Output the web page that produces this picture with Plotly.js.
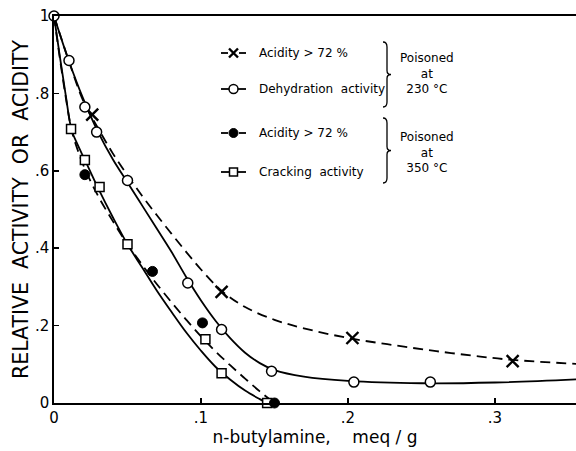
<!DOCTYPE html>
<html><head><meta charset="utf-8">
<script src="https://cdn.plot.ly/plotly-3.0.1.min.js"></script>
<style>html,body{margin:0;padding:0;background:#fff}#c{width:576px;height:451px}</style>
</head><body><div id="c"></div>
<script>
// Measured points
const dehydX = [0, 0.0102, 0.021, 0.029, 0.050, 0.091, 0.114, 0.148, 0.204, 0.256];
const dehydY = [1, 0.885, 0.765, 0.70, 0.575, 0.31, 0.19, 0.082, 0.054, 0.054];
const acid230X = [0.026, 0.114, 0.203, 0.312];
const acid230Y = [0.745, 0.287, 0.168, 0.108];
const crackX = [0.0116, 0.021, 0.031, 0.050, 0.103, 0.114, 0.145];
const crackY = [0.708, 0.628, 0.558, 0.41, 0.165, 0.077, 0];
const acid350X = [0.021, 0.067, 0.101, 0.150];
const acid350Y = [0.59, 0.34, 0.207, 0];

// Fitted curves
const dehydCurveX = [0,0.01,0.02,0.03,0.04,0.05,0.06,0.07,0.08,0.09,0.1,0.11,0.12,0.13,0.14,0.15,0.17,0.2,0.25,0.3,0.36];
const dehydCurveY = [1,0.885,0.785,0.70,0.63,0.57,0.51,0.45,0.39,0.325,0.265,0.212,0.167,0.13,0.103,0.085,0.068,0.057,0.051,0.053,0.062];
const acid230CurveX = [0,0.01,0.02,0.03,0.04,0.05,0.06,0.07,0.08,0.09,0.1,0.114,0.13,0.15,0.17,0.2,0.23,0.26,0.29,0.31,0.36];
const acid230CurveY = [1,0.885,0.78,0.71,0.645,0.588,0.535,0.485,0.437,0.39,0.345,0.29,0.248,0.215,0.193,0.168,0.15,0.134,0.12,0.112,0.1];
const crackCurveX = [0,0.004,0.008,0.012,0.016,0.021,0.03,0.04,0.05,0.06,0.07,0.08,0.09,0.1,0.11,0.12,0.13,0.14,0.145];
const crackCurveY = [1,0.895,0.795,0.705,0.668,0.628,0.555,0.48,0.41,0.35,0.29,0.235,0.182,0.135,0.093,0.06,0.032,0.01,0];
const acid350CurveX = [0,0.004,0.008,0.012,0.016,0.021,0.03,0.04,0.05,0.06,0.07,0.08,0.09,0.1,0.11,0.12,0.13,0.14,0.15];
const acid350CurveY = [1,0.89,0.79,0.705,0.655,0.605,0.535,0.47,0.41,0.357,0.307,0.26,0.215,0.172,0.133,0.097,0.063,0.03,0];

const xTickVals = [0, 0.1, 0.2, 0.3];
const xTickText = ['0', '.1', '.2', '.3'];
const yTickVals = [0, 0.2, 0.4, 0.6, 0.8, 1];
const yTickText = ['0', '.2', '.4', '.6', '.8', '1'];

const legendLabels = ['Acidity > 72 %', 'Dehydration  activity', 'Acidity > 72 %', 'Cracking  activity'];
const groupLabels = ['Poisoned<br>at<br>230 °C', 'Poisoned<br>at<br>350 °C'];

const FONT = 'DejaVu Sans, Liberation Sans, sans-serif';
const solid = {color:'#000', width:1.8};
const dashed = {color:'#000', width:1.8, dash:'10px,6px'};

const traces = [
  {x:acid230CurveX, y:acid230CurveY, mode:'lines', line:Object.assign({shape:'spline', smoothing:1}, dashed)},
  {x:dehydCurveX, y:dehydCurveY, mode:'lines', line:Object.assign({shape:'spline', smoothing:1}, solid)},
  {x:acid350CurveX, y:acid350CurveY, mode:'lines', line:Object.assign({shape:'spline', smoothing:1}, dashed)},
  {x:crackCurveX, y:crackCurveY, mode:'lines', line:Object.assign({shape:'spline', smoothing:1}, solid)},
  {x:acid230X, y:acid230Y, mode:'markers', marker:{symbol:'x-thin', size:12, line:{color:'#000', width:2.4}}},
  {x:dehydX, y:dehydY, mode:'markers', marker:{symbol:'circle', size:10, color:'#fff', line:{color:'#000', width:1.5}}},
  {x:crackX, y:crackY, mode:'markers', marker:{symbol:'square', size:9, color:'#fff', line:{color:'#000', width:1.5}}},
  {x:acid350X, y:acid350Y, mode:'markers', marker:{symbol:'circle', size:10, color:'#000', line:{color:'#000', width:1}}}
];

// Legend glyphs on a pixel overlay axis
const legY = [53, 89, 133, 172];
const legStyles = [
  {dash:true, marker:{symbol:'x-thin', size:9, line:{color:'#000', width:2.4}}},
  {dash:false, marker:{symbol:'circle', size:9, color:'#fff', line:{color:'#000', width:1.5}}},
  {dash:true, marker:{symbol:'circle', size:9, color:'#000', line:{color:'#000', width:1}}},
  {dash:false, marker:{symbol:'square', size:8, color:'#fff', line:{color:'#000', width:1.5}}}
];
legY.forEach((yy, i) => {
  const st = legStyles[i];
  const lx = st.dash ? [221, 228, null, 239, 246] : [221, 246];
  const ly = st.dash ? [yy, yy, null, yy, yy] : [yy, yy];
  traces.push({x:lx, y:ly, xaxis:'x2', yaxis:'y2', mode:'lines', line:{color:'#000', width:1.8}, connectgaps:false});
  traces.push({x:[233.5], y:[yy], xaxis:'x2', yaxis:'y2', mode:'markers', marker:st.marker});
});
traces.forEach(t => { t.showlegend = false; t.hoverinfo = 'skip'; t.cliponaxis = false; });
traces.slice(0,4).forEach(t => t.cliponaxis = true);

const annotations = [];
legendLabels.forEach((lab, i) => {
  annotations.push({xref:'x2', yref:'y2', x:257, y:legY[i], text:lab, showarrow:false, xanchor:'left', yanchor:'middle', font:{family:FONT, size:12, color:'#000'}});
});
annotations.push({xref:'x2', yref:'y2', x:427, y:73, text:groupLabels[0], showarrow:false, xanchor:'center', yanchor:'middle', font:{family:FONT, size:12, color:'#000'}});
annotations.push({xref:'x2', yref:'y2', x:427, y:152, text:groupLabels[1], showarrow:false, xanchor:'center', yanchor:'middle', font:{family:FONT, size:12, color:'#000'}});

function brace(x, y0, y1) {
  const m = (y0 + y1) / 2;
  return {type:'path', xref:'x2', yref:'y2', line:{color:'#000', width:1.3},
    path:`M ${x-4} ${y0} Q ${x} ${y0} ${x} ${y0+5} L ${x} ${m-4} Q ${x} ${m} ${x+4} ${m} Q ${x} ${m} ${x} ${m+4} L ${x} ${y1-5} Q ${x} ${y1} ${x-4} ${y1}`};
}

const layout = {
  width:576, height:451,
  margin:{l:54, r:0, t:16, b:48},
  paper_bgcolor:'#fff', plot_bgcolor:'#fff',
  font:{family:FONT, color:'#000'},
  showlegend:false,
  xaxis:{range:[0, 0.3551], showgrid:false, zeroline:false, showline:true, linecolor:'#000', linewidth:1.8, mirror:true,
    ticks:'inside', ticklen:5, tickwidth:1.5, tickcolor:'#000', tickvals:xTickVals, ticktext:xTickText,
    tickfont:{family:FONT, size:15}, title:{text:'n-butylamine,    meq / g', font:{family:FONT, size:17}, standoff:2}},
  yaxis:{range:[0, 1], showgrid:false, zeroline:false, showline:true, linecolor:'#000', linewidth:1.8,
    ticks:'inside', ticklen:5, tickwidth:1.5, tickcolor:'#000', tickvals:yTickVals, ticktext:yTickText,
    tickfont:{family:FONT, size:15}, title:{text:'RELATIVE  ACTIVITY  OR  ACIDITY', font:{family:FONT, size:20.5}, standoff:1}},
  xaxis2:{overlaying:'x', range:[54, 576], visible:false, fixedrange:true},
  yaxis2:{overlaying:'y', range:[403, 16], visible:false, fixedrange:true},
  annotations:annotations,
  shapes:[brace(387, 42, 107), brace(387, 118, 183)]
};

Plotly.newPlot('c', traces, layout, {staticPlot:true, displayModeBar:false});
</script>
</body></html>
